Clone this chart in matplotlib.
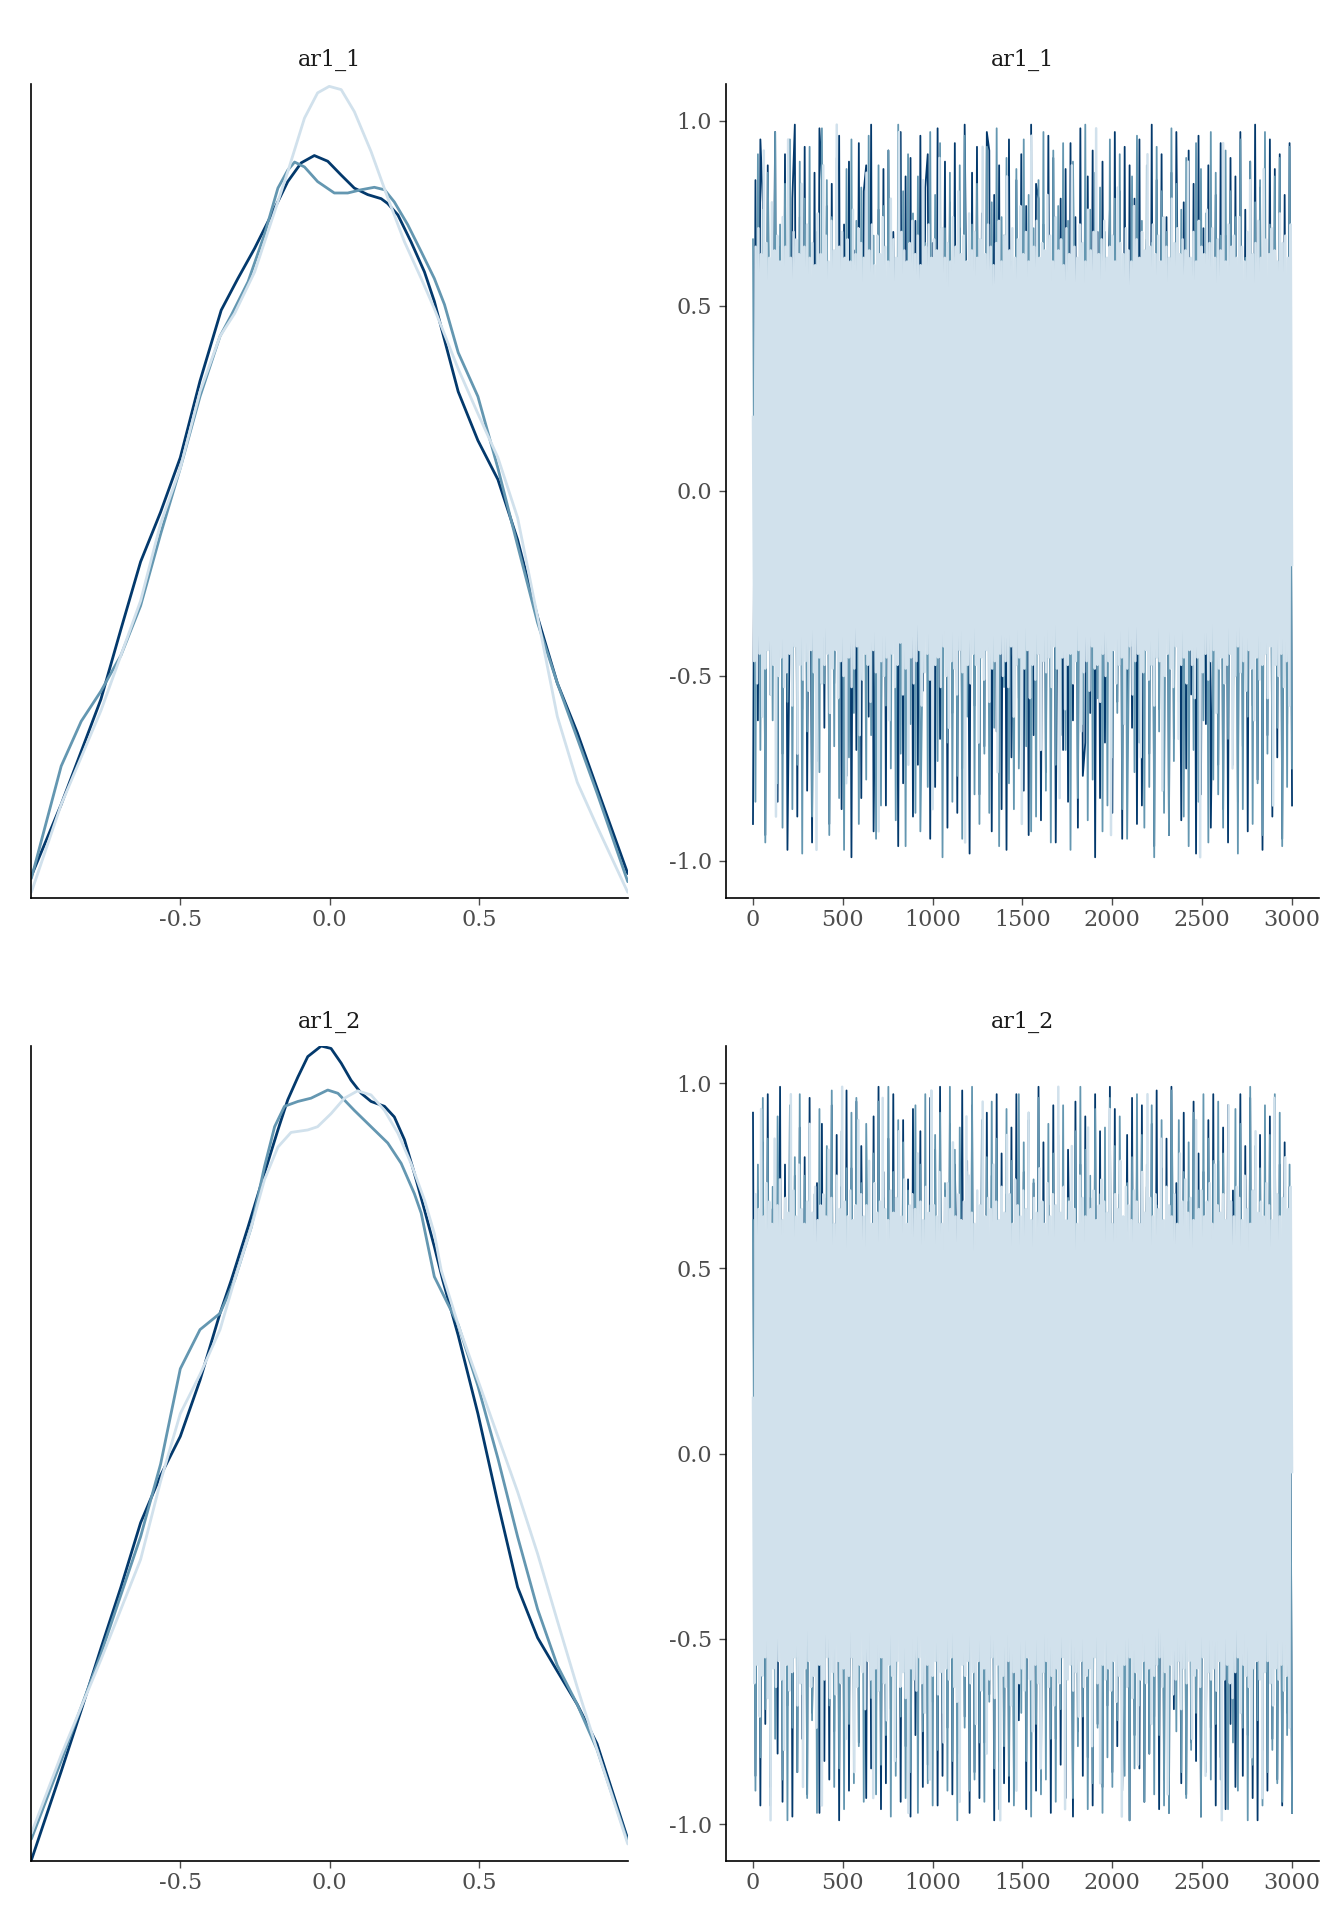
import numpy as np
import matplotlib
matplotlib.use("Agg")
import matplotlib.pyplot as plt
from matplotlib.ticker import FormatStrFormatter

plt.rcParams['font.family'] = ['DejaVu Serif']
plt.rcParams['axes.unicode_minus'] = False

chain_colors = ['#03396c', '#6497b1', '#d1e1ec']  # chain 1, 2, 3
params = ['ar1_1', 'ar1_2']

# ---- density overlay ----
dens_ar1_1 = {
    'x': [
        [-0.999, -0.899, -0.766, -0.699, -0.633, -0.566, -0.5, -0.434, -0.363, -0.307, -0.251, -0.195, -0.140, -0.095,
         -0.051, -0.006, 0.039, 0.083, 0.128, 0.173, 0.195, 0.229, 0.273, 0.318, 0.351, 0.431, 0.497, 0.564, 0.630,
         0.697, 0.763, 0.830, 0.896, 0.999],
        [-0.999, -0.899, -0.832, -0.766, -0.699, -0.633, -0.566, -0.5, -0.434, -0.367, -0.329, -0.273, -0.218, -0.173,
         -0.140, -0.117, -0.084, -0.040, 0.016, 0.061, 0.106, 0.150, 0.184, 0.217, 0.262, 0.307, 0.351, 0.385, 0.431,
         0.497, 0.564, 0.630, 0.697, 0.763, 0.830, 0.896, 0.999],
        [-0.999, -0.899, -0.766, -0.699, -0.633, -0.566, -0.5, -0.434, -0.367, -0.318, -0.251, -0.195, -0.140, -0.084,
         -0.040, -0.001, 0.039, 0.083, 0.139, 0.195, 0.251, 0.307, 0.351, 0.431, 0.497, 0.564, 0.630, 0.697, 0.763,
         0.830, 0.896, 0.999],
    ],
    'y': [
        [0.027, 0.115, 0.244, 0.33, 0.413, 0.474, 0.541, 0.635, 0.722, 0.761, 0.798, 0.839, 0.880, 0.903,
         0.912, 0.905, 0.888, 0.872, 0.864, 0.859, 0.853, 0.839, 0.806, 0.769, 0.733, 0.622, 0.562, 0.514, 0.44,
         0.345, 0.264, 0.203, 0.135, 0.030],
        [0.024, 0.162, 0.217, 0.254, 0.298, 0.359, 0.447, 0.528, 0.616, 0.69, 0.716, 0.757, 0.815, 0.872,
         0.894, 0.904, 0.898, 0.880, 0.866, 0.866, 0.870, 0.873, 0.870, 0.855, 0.827, 0.794, 0.761, 0.729, 0.67,
         0.616, 0.528, 0.433, 0.338, 0.264, 0.196, 0.129, 0.020],
        [0.007, 0.115, 0.23, 0.298, 0.365, 0.46, 0.528, 0.622, 0.69, 0.718, 0.769, 0.831, 0.892, 0.958,
         0.989, 0.997, 0.993, 0.966, 0.917, 0.860, 0.806, 0.761, 0.724, 0.65, 0.595, 0.541, 0.467, 0.345, 0.223,
         0.142, 0.088, 0.007],
    ],
}
dens_ar1_2 = {
    'x': [
        [-0.999, -0.899, -0.832, -0.766, -0.699, -0.633, -0.566, -0.5, -0.434, -0.367, -0.329, -0.273, -0.218, -0.173,
         -0.140, -0.106, -0.073, -0.028, 0.005, 0.039, 0.072, 0.106, 0.139, 0.184, 0.217, 0.251, 0.284, 0.318, 0.351,
         0.379, 0.431, 0.497, 0.564, 0.630, 0.697, 0.763, 0.830, 0.896, 0.999],
        [-0.999, -0.899, -0.766, -0.633, -0.566, -0.5, -0.434, -0.367, -0.318, -0.262, -0.218, -0.184, -0.151, -0.106,
         -0.062, -0.006, 0.028, 0.083, 0.139, 0.195, 0.240, 0.284, 0.307, 0.351, 0.431, 0.497, 0.564, 0.630, 0.697,
         0.763, 0.830, 0.896, 0.999],
        [-0.999, -0.899, -0.766, -0.633, -0.566, -0.5, -0.434, -0.367, -0.318, -0.262, -0.218, -0.173, -0.129, -0.073,
         -0.040, 0.005, 0.050, 0.094, 0.139, 0.184, 0.229, 0.273, 0.318, 0.351, 0.374, 0.431, 0.497, 0.564, 0.630,
         0.697, 0.763, 0.830, 0.896, 0.999],
    ],
    'y': [
        [0.001, 0.11, 0.185, 0.261, 0.336, 0.415, 0.473, 0.521, 0.59, 0.672, 0.713, 0.778, 0.844, 0.897,
         0.934, 0.962, 0.987, 1.0, 0.997, 0.979, 0.958, 0.942, 0.932, 0.926, 0.913, 0.885, 0.844, 0.799, 0.754,
         0.713, 0.645, 0.549, 0.439, 0.336, 0.274, 0.233, 0.192, 0.144, 0.027],
        [0.027, 0.123, 0.254, 0.398, 0.487, 0.604, 0.652, 0.672, 0.713, 0.778, 0.852, 0.901, 0.926, 0.932,
         0.936, 0.946, 0.942, 0.921, 0.901, 0.881, 0.856, 0.819, 0.795, 0.717, 0.658, 0.583, 0.494, 0.398, 0.309,
         0.24, 0.192, 0.137, 0.024],
        [0.034, 0.13, 0.247, 0.37, 0.466, 0.549, 0.597, 0.652, 0.713, 0.778, 0.836, 0.876, 0.894, 0.897,
         0.901, 0.917, 0.936, 0.945, 0.940, 0.921, 0.893, 0.856, 0.811, 0.770, 0.725, 0.658, 0.59, 0.521, 0.453,
         0.377, 0.295, 0.213, 0.137, 0.021],
    ],
}

# ---- trace draws, in hundredths (rough reading of the spikes) ----
trace_ar1_1_c1 = [
    -90, 84, -62, 95, 78, -93, 88, -55, 12, 97, -84, 66, -71, 91, -97, -30, 79, 99, -88, 74,
    -59, 93, -81, 25, -95, 86, -73, 98, 84, -64, 77, -90, 83, -52, 5, 96, -86, 72, -77, 89,
    -99, 65, -70, 94, -83, 81, 88, -61, 99, -92, -20, 76, -68, 87, -85, 92, -57, 70, 40, -96,
    97, -79, 85, -63, 90, -88, 73, -74, 96, -54, 82, 91, -94, 67, -80, 98, -67, -15, 89, -91,
    78, -60, 94, -87, 71, -75, 99, 30, -98, 86, -58, 93, -82, 75, -69, 97, 92, -92, 80, -65,
    88, -86, 69, -97, 95, -72, -25, 84, -56, 91, -81, 77, -93, 99, -66, 83, 79, -89, 72, -76,
    96, -53, 90, -95, 10, 79, -70, 87, -84, 94, -62, 74, -91, 98, -77, -68, 85, -60, 92, -99,
    70, -83, 89, -68, 45, 76, -87, 97, -57, 81, -94, 93, -73, 88, -64, 79, -90, 95, -85, -5,
    68, -71, 99, -96, 84, -59, 91, -80, 74, -93, 86, -67, 97, 20, -89, 78, -75, 92, -55, 83,
    -98, 96, -82, 71, -63, 88, -91, -35, 80, -74, 94, -86, 69, -95, 90, -61, 85, -84, 97, -69,
    76, -92, 89, -58, 99, -78, 82, -97, 73, -66, 95, -88, 87, -72, 91, -94, 80, -63, 94, -85,
]
trace_ar1_1_c2 = [
    68, -84, 91, -70, 76, -95, 86, 35, -62, 97, -79, 72, -91, 83, -57, 95, -86, 66, -74, 89,
    -98, 79, -65, 93, -88, -10, 70, -76, 98, -52, 84, -93, 74, -69, 90, -83, 61, -97, 87, -72,
    95, -60, 73, -90, 82, 25, -78, 96, -66, 69, -94, 88, -85, 77, -58, 92, -75, 64, -89, 99,
    -71, 81, -96, 91, -63, 75, -87, 85, -92, -40, 67, -80, 97, -55, 80, -73, 94, -99, 71, -68,
    86, -84, 63, -77, 88, -94, 96, -61, 15, 72, -82, 83, -90, 65, -71, 93, -87, 78, -64, 98,
    -96, 74, -53, 90, -79, 62, -86, 87, -75, -20, 95, -69, 80, -92, 71, -88, 84, -59, 97, -81,
    68, -95, 92, -74, 77, -66, 94, -70, 73, -97, 89, 30, -83, 66, -63, 99, -89, 76, -78, 86,
    -56, 82, -92, 70, -85, 95, -72, 79, -60, 91, -86, 64, -94, -25, 85, -76, 96, -68, 73, -91,
    88, -80, 67, -99, 93, -65, 81, -87, 70, -93, 98, -73, 83, -57, 76, -88, 90, -96, 62, -70,
    94, -84, 87, -62, 75, -95, 97, -78, 86, -82, 69, -91, 92, -67, 81, -74, 74, -98, 95, -86,
    63, -61, 89, -90, 78, -79, 84, -93, 97, -71, 72, -85, 85, -64, 90, -96, 67, -80, 93, -75,
]
trace_ar1_1_c3 = [
    20, -46, 66, -52, 71, -44, 64, -61, 92, -48, 67, -43, 63, -55, 78, -47, 65, -88, 69, -50,
    62, -45, 74, -53, 66, -49, 95, -44, 63, -58, 70, -42, 68, -71, 64, -47, 83, -51, 66, -46,
    72, -54, 63, -43, 67, -49, 61, -97, 75, -45, 64, -52, 88, -47, 69, -44, 62, -60, 73, -48,
    65, -43, 99, -56, 66, -46, 70, -50, 63, -79, 68, -45, 62, -53, 76, -48, 64, -42, 71, -66,
    67, -51, 63, -44, 86, -47, 65, -57, 72, -43, 61, -49, 69, -92, 64, -46, 74, -50, 66, -45,
    62, -62, 79, -44, 68, -53, 63, -47, 97, -41, 70, -55, 65, -48, 62, -74, 67, -45, 73, -52,
    64, -46, 69, -43, 61, -58, 84, -49, 66, -44, 72, -51, 63, -86, 68, -47, 65, -45, 90, -53,
    71, -42, 63, -50, 67, -64, 62, -46, 74, -48, 66, -55, 81, -43, 64, -49, 69, -95, 62, -47,
    75, -52, 65, -44, 70, -47, 63, -68, 68, -45, 93, -51, 64, -43, 72, -57, 66, -48, 61, -46,
    67, -76, 73, -44, 62, -50, 69, -46, 85, -53, 65, -42, 71, -61, 63, -47, 68, -45, 77, -90,
    64, -48, 70, -43, 62, -56, 96, -47, 66, -51, 73, -44, 63, -70, 67, -46, 65, -49, 80, -45,
    69, -53, 62, -42, 74, -48, 65, -83, 68, -45, 61, -59, 71, -47, 64, -44, 88, -52, 66, -46,
    63, -43, 72, -65, 67, -49, 62, -46, 76, -54, 65, -42, 70, -48, 98, -47, 64, -57, 68, -44,
    73, -50, 63, -46, 66, -93, 69, -43, 62, -52, 82, -47, 67, -45, 64, -63, 71, -48, 65, -42,
    62, -55, 77, -46, 68, -44, 63, -72, 70, -49, 65, -43, 91, -51, 66, -47, 72, -58, 64, -45,
    69, -46, 62, -81, 74, -50, 66, -44, 63, -48, 79, -53, 67, -42, 71, -67, 64, -47, 68, -45,
    65, -52, 89, -43, 63, -47, 70, -56, 62, -45, 73, -99, 66, -49, 64, -44, 76, -51, 67, -46,
    71, -43, 63, -60, 68, -48, 65, -45, 94, -52, 62, -47, 72, -44, 66, -75, 69, -50, 63, -42,
    74, -49, 66, -46, 62, -54, 70, -43, 84, -48, 64, -62, 67, -45, 73, -51, 63, -47, 87, -44,
    68, -56, 64, -42, 71, -85, 65, -47, 62, -50, 75, -44, 67, -53, 69, -46, 63, -58, 72, -20,
]
trace_ar1_2_c1 = [
    92, -87, 71, -95, 84, -73, 97, -90, 66, 20, -81, 99, -94, 78, -68, 93, -98, 75, -86, 88,
    -77, 80, -92, 96, -70, -30, 73, -97, 89, -83, 69, -88, 94, -75, 86, -99, 72, -80, 98, -91,
    77, -66, 95, -78, 83, 10, -93, 67, -85, 91, -72, 99, -96, 76, -89, 85, -69, 97, -82, 70,
    -94, 90, -79, 74, -98, 93, -76, -15, 87, -90, 72, -84, 96, -67, 82, -95, 99, -87, 71, -74,
    89, -92, 78, 40, -81, 98, -71, 79, -97, 94, -86, 68, -93, 85, -78, 92, -65, 75, -99, 97,
    -83, 81, -89, 70, -94, 88, -85, 97, -72, -5, 76, -96, 90, -80, 73, -91, 99, -88, 84, -70,
    67, -97, 94, -77, 86, -84, 71, -93, 82, 30, -98, 95, -75, 78, -87, 91, -82, 69, -95, 97,
    -73, 87, -90, 74, -68, 99, -86, 93, -79, 70, -91, -40, 86, -99, 96, -76, 80, -85, 94, -94,
    72, -81, 89, -71, 98, -96, 77, -88, 85, -97, 99, -69, 73, 15, -89, 92, -92, 68, -78, 95,
    -83, 81, -98, 76, -86, 90, -74, 97, -95, 79, -82, 88, -96, 94, -73, 71, -90, -20, 97, -87,
    83, -76, 96, -93, 70, -99, 86, -80, 75, -91, 91, -77, 96, -88, 78, -95, 84, -70, 72, -97,
]
trace_ar1_2_c2 = [
    63, -91, 78, -82, 96, -69, 85, -95, 72, -77, 91, 25, -88, 68, -99, 94, -74, 80, -86, 97,
    -65, 75, -93, 88, -72, 70, -97, 93, -81, -20, 83, -68, 98, -90, 66, -85, 87, -96, 77, -73,
    92, -89, 96, -79, 73, -94, 89, 35, -66, 81, -92, 95, -84, 69, -76, 99, -98, 76, -87, 90,
    -71, 84, -93, 71, -86, -10, 94, -97, 78, -75, 97, -89, 67, -95, 86, -80, 92, -70, 73, -91,
    99, -83, 82, -99, 88, 20, -74, 76, -91, 99, -88, 70, -78, 90, -94, 80, -67, 95, -85, 85,
    -96, 72, -79, 93, -87, 79, -95, -35, 97, -70, 84, -83, 92, -98, 74, -73, 96, -92, 68, -88,
    89, -77, 81, -94, 77, -69, 94, -84, 69, 10, -93, 87, -79, 99, -71, 82, -96, 75, -89, 93,
    -74, 70, -97, 88, -82, 96, -90, 83, -72, 91, -25, -87, 73, -99, 80, -85, 97, -68, 86, -94,
    78, -81, 94, -92, 67, -76, 90, -95, 72, -97, 98, 40, -75, 90, -86, 76, -93, 84, -80, 92,
    -70, 71, -98, 97, -83, 85, -88, 79, -73, 95, -88, 81, -5, -96, 68, -78, 93, -91, 89, -74,
    74, -99, 99, -84, 83, -72, 77, -95, 94, -86, 86, -80, 97, -89, 92, -94, 70, -76, 78, -97,
]
trace_ar1_2_c3 = [
    15, -62, 70, -57, 66, -71, 93, -60, 64, -55, 73, -66, 68, -99, 62, -58, 85, -63, 67, -56,
    74, -61, 63, -80, 69, -57, 65, -64, 97, -59, 71, -55, 64, -68, 78, -62, 66, -90, 62, -58,
    68, -56, 89, -63, 65, -60, 72, -74, 63, -57, 67, -95, 70, -61, 64, -55, 82, -66, 69, -59,
    62, -65, 75, -56, 66, -62, 99, -58, 68, -77, 64, -60, 71, -55, 63, -86, 67, -63, 90, -57,
    70, -59, 64, -69, 67, -56, 79, -61, 62, -93, 73, -58, 65, -64, 68, -55, 96, -62, 66, -72,
    63, -57, 71, -60, 65, -83, 69, -56, 87, -63, 64, -59, 74, -66, 62, -97, 67, -58, 70, -61,
    66, -64, 81, -55, 68, -62, 63, -70, 72, -57, 65, -88, 98, -60, 67, -56, 64, -65, 76, -59,
    62, -78, 69, -58, 73, -61, 66, -55, 84, -63, 64, -67, 70, -94, 63, -57, 68, -60, 91, -56,
    75, -62, 65, -59, 62, -73, 71, -56, 67, -64, 95, -58, 64, -81, 69, -61, 66, -55, 78, -66,
    68, -57, 63, -99, 72, -60, 65, -63, 86, -56, 70, -68, 62, -59, 74, -91, 67, -62, 64, -58,
    71, -64, 66, -55, 92, -61, 63, -75, 69, -57, 65, -62, 77, -85, 68, -59, 62, -56, 73, -63,
    64, -60, 70, -68, 67, -58, 99, -62, 65, -55, 72, -96, 63, -61, 68, -57, 83, -64, 66, -59,
    62, -71, 75, -56, 69, -63, 64, -60, 88, -58, 66, -79, 71, -55, 63, -62, 67, -89, 74, -57,
    68, -61, 65, -58, 93, -64, 62, -56, 70, -67, 66, -60, 79, -98, 64, -57, 72, -63, 67, -55,
    63, -66, 71, -59, 68, -84, 62, -61, 76, -56, 65, -62, 97, -58, 69, -73, 64, -60, 70, -57,
    66, -55, 85, -63, 63, -59, 72, -92, 67, -57, 64, -65, 70, -61, 62, -56, 81, -69, 68, -58,
    74, -62, 65, -56, 69, -77, 63, -60, 90, -58, 66, -63, 71, -55, 64, -87, 68, -59, 73, -61,
    62, -58, 78, -64, 67, -56, 65, -99, 70, -61, 63, -57, 94, -62, 68, -66, 64, -59, 72, -55,
    69, -70, 63, -57, 75, -60, 66, -63, 62, -82, 71, -58, 87, -56, 65, -61, 68, -93, 64, -59,
    73, -56, 67, -62, 63, -68, 96, -58, 70, -61, 64, -57, 69, -64, 80, -60, 66, -74, 72, -5,
]

traces = {
    'ar1_1': [trace_ar1_1_c1, trace_ar1_1_c2, trace_ar1_1_c3],
    'ar1_2': [trace_ar1_2_c1, trace_ar1_2_c2, trace_ar1_2_c3],
}
densities = {'ar1_1': dens_ar1_1, 'ar1_2': dens_ar1_2}
n_iter = 3000

fig = plt.figure(figsize=(13.44, 19.2), dpi=100)
rows = [(0.5323, 0.4240), (0.0307, 0.4245)]
tick_col = '#4d4d4d'
trace_lw = [1.3, 1.3, 1.8]


def style(ax):
    for s in ['top', 'right']:
        ax.spines[s].set_visible(False)
    for s in ['left', 'bottom']:
        ax.spines[s].set_linewidth(1.2)
        ax.spines[s].set_color('black')
    ax.tick_params(colors=tick_col, labelsize=16, length=5, width=1.0)
    ax.tick_params(axis='x', pad=3)
    ax.tick_params(axis='y', pad=5)


for i, p in enumerate(params):
    bottom, height = rows[i]

    # density panel
    ax = fig.add_axes([0.0231, bottom, 0.4442, height])
    d = densities[p]
    for k in range(3):
        ax.plot(d['x'][k], d['y'][k], color=chain_colors[k], lw=2.0,
                solid_joinstyle='round', solid_capstyle='round')
    ax.set_xlim(-1.0, 1.0)
    ax.set_ylim(0, 1.0)
    ax.set_xticks([-0.5, 0.0, 0.5])
    ax.xaxis.set_major_formatter(FormatStrFormatter('%.1f'))
    ax.set_yticks([])
    style(ax)
    ax.set_title(p, fontsize=16, color='#1a1a1a', pad=13)

    # trace panel
    ax = fig.add_axes([0.5402, bottom, 0.4412, height])
    for k in range(3):
        vals = np.array(traces[p][k]) / 100.0
        it = np.linspace(1, n_iter, len(vals))
        ax.plot(it, vals, color=chain_colors[k], lw=trace_lw[k])
    ax.set_xlim(-149, 3150)
    ax.set_ylim(-1.1, 1.1)
    ax.set_xticks([0, 500, 1000, 1500, 2000, 2500, 3000])
    ax.set_yticks([-1.0, -0.5, 0.0, 0.5, 1.0])
    ax.yaxis.set_major_formatter(FormatStrFormatter('%.1f'))
    style(ax)
    ax.set_title(p, fontsize=16, color='#1a1a1a', pad=13)

fig.savefig('out.png', dpi=100, facecolor='white')
